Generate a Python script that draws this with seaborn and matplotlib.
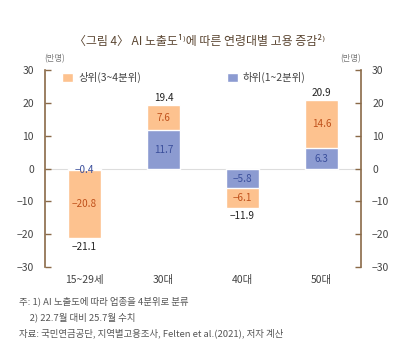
import matplotlib
matplotlib.use("Agg")
import matplotlib.pyplot as plt
import seaborn as sns
import pandas as pd

# data (만명)
ages = ["15~29세", "30대", "40대", "50대"]
upper = [-20.8, 7.6, -6.1, 14.6]   # 상위(3~4분위)
lower = [-0.4, 11.7, -5.8, 6.3]    # 하위(1~2분위)
totals = [-21.1, 19.4, -11.9, 20.9]
yticks = [-30, -20, -10, 0, 10, 20, 30]

orange = "#fdc28f"
blue = "#8c9bd1"
brown = "#8a6a48"

sns.set_style("white")
plt.rcParams["font.family"] = ["Noto Sans CJK KR", "DejaVu Sans"]
plt.rcParams["axes.unicode_minus"] = True

df = pd.DataFrame({"age": ages, "upper": upper, "lower": lower})
df["stack"] = df["upper"] + df["lower"]

fig = plt.figure(figsize=(4, 3.58), dpi=100)
ax = fig.add_axes([0.1125, 0.254, 0.79, 0.5505])

# full stack in orange, then the lower-quartile part over it in blue
sns.barplot(data=df, x="age", y="stack", color=orange, width=0.41,
            saturation=1, ax=ax, label="상위(3~4분위)")
sns.barplot(data=df, x="age", y="lower", color=blue, width=0.41,
            saturation=1, ax=ax, label="하위(1~2분위)")

ax.axhline(0, color="#dddddd", lw=0.8, zorder=0)
ax.set_ylim(-30, 30)
ax.set_xlim(-0.5, 3.5)
ax.set_yticks(yticks)
ax.set_xlabel("")
ax.set_ylabel("")

for i in range(len(ages)):
    lo, up, tot = lower[i], upper[i], df["stack"][i]
    ax.text(i, lo / 2 - 0.3, f"{lo:.1f}".replace("-", "−"), ha="center", va="center",
            fontsize=7.2, color="#3b4f9c")
    ax.text(i, lo + up / 2, f"{up:.1f}".replace("-", "−"), ha="center", va="center",
            fontsize=7.2, color="#c0521c")
    off = 2.2 if tot > 0 else -2.6
    ax.text(i, tot + off, f"{totals[i]:.1f}".replace("-", "−"), ha="center", va="center",
            fontsize=7.2, color="#222222")

for s in ["top", "bottom"]:
    ax.spines[s].set_visible(False)
ax.spines["right"].set_visible(False)
ax.spines["left"].set_color(brown)
ax.spines["left"].set_linewidth(1.2)
ax.tick_params(axis="y", direction="in", length=4, width=1, color=brown,
               labelsize=7.5, labelcolor="#444444", pad=8)
ax.tick_params(axis="x", length=0, labelsize=7.5, labelcolor="#444444", pad=6)

ax2 = ax.twinx()
ax2.set_ylim(-30, 30)
ax2.set_yticks(yticks)
for s in ["top", "bottom", "left"]:
    ax2.spines[s].set_visible(False)
ax2.spines["right"].set_color(brown)
ax2.spines["right"].set_linewidth(1.2)
ax2.tick_params(axis="y", direction="in", length=4, width=1, color=brown,
                labelsize=7.5, labelcolor="#444444", pad=8)

ax.legend(loc="center left", ncol=2, frameon=False, fontsize=7.5,
          handlelength=1.05, handleheight=1.05, handletextpad=0.5,
          columnspacing=8.2, borderpad=0, borderaxespad=0,
          bbox_to_anchor=(0.055, 0.962), labelcolor="#444444")

fig.text(0.5, 0.885, "〈그림 4〉 AI 노출도¹⁾에 따른 연령대별 고용 증감²⁾",
         ha="center", va="center", fontsize=8.6, color="#5b4632")
fig.text(0.137, 0.828, "(만명)", ha="center", fontsize=6, color="#777777")
fig.text(0.876, 0.828, "(만명)", ha="center", fontsize=6, color="#777777")

notes = ["주: 1) AI 노출도에 따라 업종을 4분위로 분류",
         "     2) 22.7월 대비 25.7월 수치",
         "자료: 국민연금공단, 지역별고용조사, Felten et al.(2021), 저자 계산"]
for k, t in enumerate(notes):
    fig.text(0.048, 0.157 - k * 0.044, t, ha="left", va="center",
             fontsize=6.8, color="#555555")

fig.savefig("out.png", dpi=100)
